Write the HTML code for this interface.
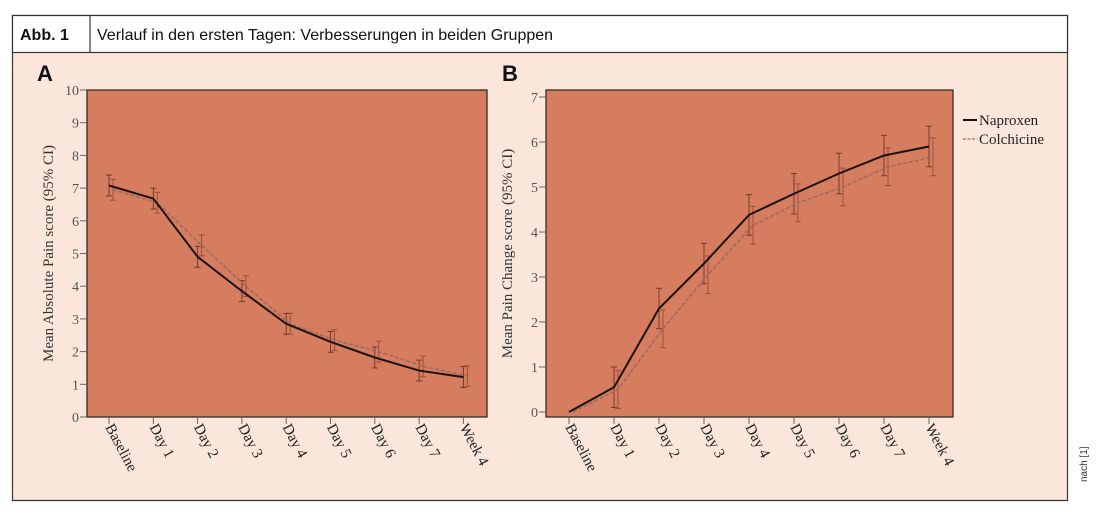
<!DOCTYPE html>
<html><head><meta charset="utf-8"><style>
html,body{margin:0;padding:0;background:#fff;width:1100px;height:518px;overflow:hidden}
svg{display:block}
</style></head><body>
<svg id="s" width="1100" height="518" xmlns="http://www.w3.org/2000/svg" font-family="Liberation Serif, serif">
<rect x="12.5" y="15.5" width="1055" height="485" fill="#fbe6dc" stroke="#333" stroke-width="1.2"/>
<rect x="12.5" y="15.5" width="1055" height="37" fill="#fff" stroke="#333" stroke-width="1.2"/>
<line x1="90" y1="15.5" x2="90" y2="52.5" stroke="#333" stroke-width="1.2"/>
<text x="20" y="40" font-family="Liberation Sans, sans-serif" font-weight="bold" font-size="16" fill="#111">Abb. 1</text>
<text x="97" y="40" font-family="Liberation Sans, sans-serif" font-size="16" fill="#111">Verlauf in den ersten Tagen: Verbesserungen in beiden Gruppen</text>
<text x="37" y="81" font-family="Liberation Sans, sans-serif" font-weight="bold" font-size="22" fill="#111">A</text>
<text x="502" y="81" font-family="Liberation Sans, sans-serif" font-weight="bold" font-size="22" fill="#111">B</text>
<text transform="translate(1087,482) rotate(-90)" font-family="Liberation Sans, sans-serif" font-size="10" fill="#333">nach [1]</text>
<g id="g"></g>
</svg>
<script>
var g=document.getElementById('g'),h='';
var labels=['Baseline','Day 1','Day 2','Day 3','Day 4','Day 5','Day 6','Day 7','Week 4'];
function chart(L,R,T,B,x0,dx,ymax,y0px,ytop,nap,col,ylab,errN,errC,skip0){
 h+='<rect x="'+L+'" y="'+T+'" width="'+(R-L)+'" height="'+(B-T)+'" fill="#d67c5f" stroke="#3a2a22" stroke-width="1.3"/>';
 var u=(y0px-ytop)/ymax;
 function Y(v){return y0px-v*u;}
 for(var i=0;i<=ymax;i++){var y=Y(i);h+='<line x1="'+(L-7)+'" y1="'+y+'" x2="'+L+'" y2="'+y+'" stroke="#666"/><text x="'+(L-8)+'" y="'+(y+5)+'" font-size="14" fill="#555" text-anchor="end">'+i+'</text>';}
 for(var i=0;i<9;i++){var x=x0+i*dx;h+='<line x1="'+x+'" y1="'+B+'" x2="'+x+'" y2="'+(B+7)+'" stroke="#666"/><text transform="translate('+(x-4)+','+(B+10)+') rotate(62)" font-size="15" fill="#222">'+labels[i]+'</text>';}
 h+='<text transform="translate('+(L-34)+','+((T+B)/2)+') rotate(-90)" font-size="15" fill="#333" text-anchor="middle">'+ylab+'</text>';
 var pc='',pn='';
 for(var i=0;i<9;i++){var xc=x0+i*dx+4,xn=x0+i*dx;
  if(!(skip0&&i==0)){h+='<g stroke="#9a4a3a" stroke-width="0.9"><line x1="'+xc+'" y1="'+Y(col[i]-errC)+'" x2="'+xc+'" y2="'+Y(col[i]+errC)+'"/><line x1="'+(xc-3)+'" y1="'+Y(col[i]-errC)+'" x2="'+(xc+3)+'" y2="'+Y(col[i]-errC)+'"/><line x1="'+(xc-3)+'" y1="'+Y(col[i]+errC)+'" x2="'+(xc+3)+'" y2="'+Y(col[i]+errC)+'"/></g>';
  h+='<g stroke="#6a3426" stroke-width="0.9"><line x1="'+xn+'" y1="'+Y(nap[i]-errN)+'" x2="'+xn+'" y2="'+Y(nap[i]+errN)+'"/><line x1="'+(xn-3)+'" y1="'+Y(nap[i]-errN)+'" x2="'+(xn+3)+'" y2="'+Y(nap[i]-errN)+'"/><line x1="'+(xn-3)+'" y1="'+Y(nap[i]+errN)+'" x2="'+(xn+3)+'" y2="'+Y(nap[i]+errN)+'"/></g>';}
  pc+=(i?'L':'M')+xc+' '+Y(col[i]);pn+=(i?'L':'M')+xn+' '+Y(nap[i]);}
 h+='<path d="'+pc+'" fill="none" stroke="#9a6a60" stroke-width="1.5" stroke-dasharray="4,2"/>';
 h+='<path d="'+pn+'" fill="none" stroke="#1a1210" stroke-width="2"/>';
}
chart(87,487,90,417,109,44.3,10,417,90,[7.08,6.68,4.9,3.85,2.85,2.3,1.82,1.42,1.22],[6.95,6.55,5.25,4.0,2.85,2.35,2.0,1.55,1.25],'Mean Absolute Pain score (95% CI)',0.32,0.32,false);
chart(546,953,90,417,569,45,7,412,97,[0,0.55,2.3,3.3,4.38,4.85,5.3,5.7,5.9],[0,0.5,1.85,3.05,4.15,4.65,5.0,5.45,5.67],'Mean Pain Change score (95% CI)',0.45,0.42,true);
h+='<line x1="963" y1="120" x2="977" y2="120" stroke="#111" stroke-width="2"/><text x="979" y="125" font-size="15" fill="#222">Naproxen</text>';
h+='<line x1="963" y1="139" x2="977" y2="139" stroke="#9a6a60" stroke-width="1.3" stroke-dasharray="3,1.5"/><text x="979" y="144" font-size="15" fill="#222">Colchicine</text>';
g.innerHTML=h;
</script>
</body></html>
